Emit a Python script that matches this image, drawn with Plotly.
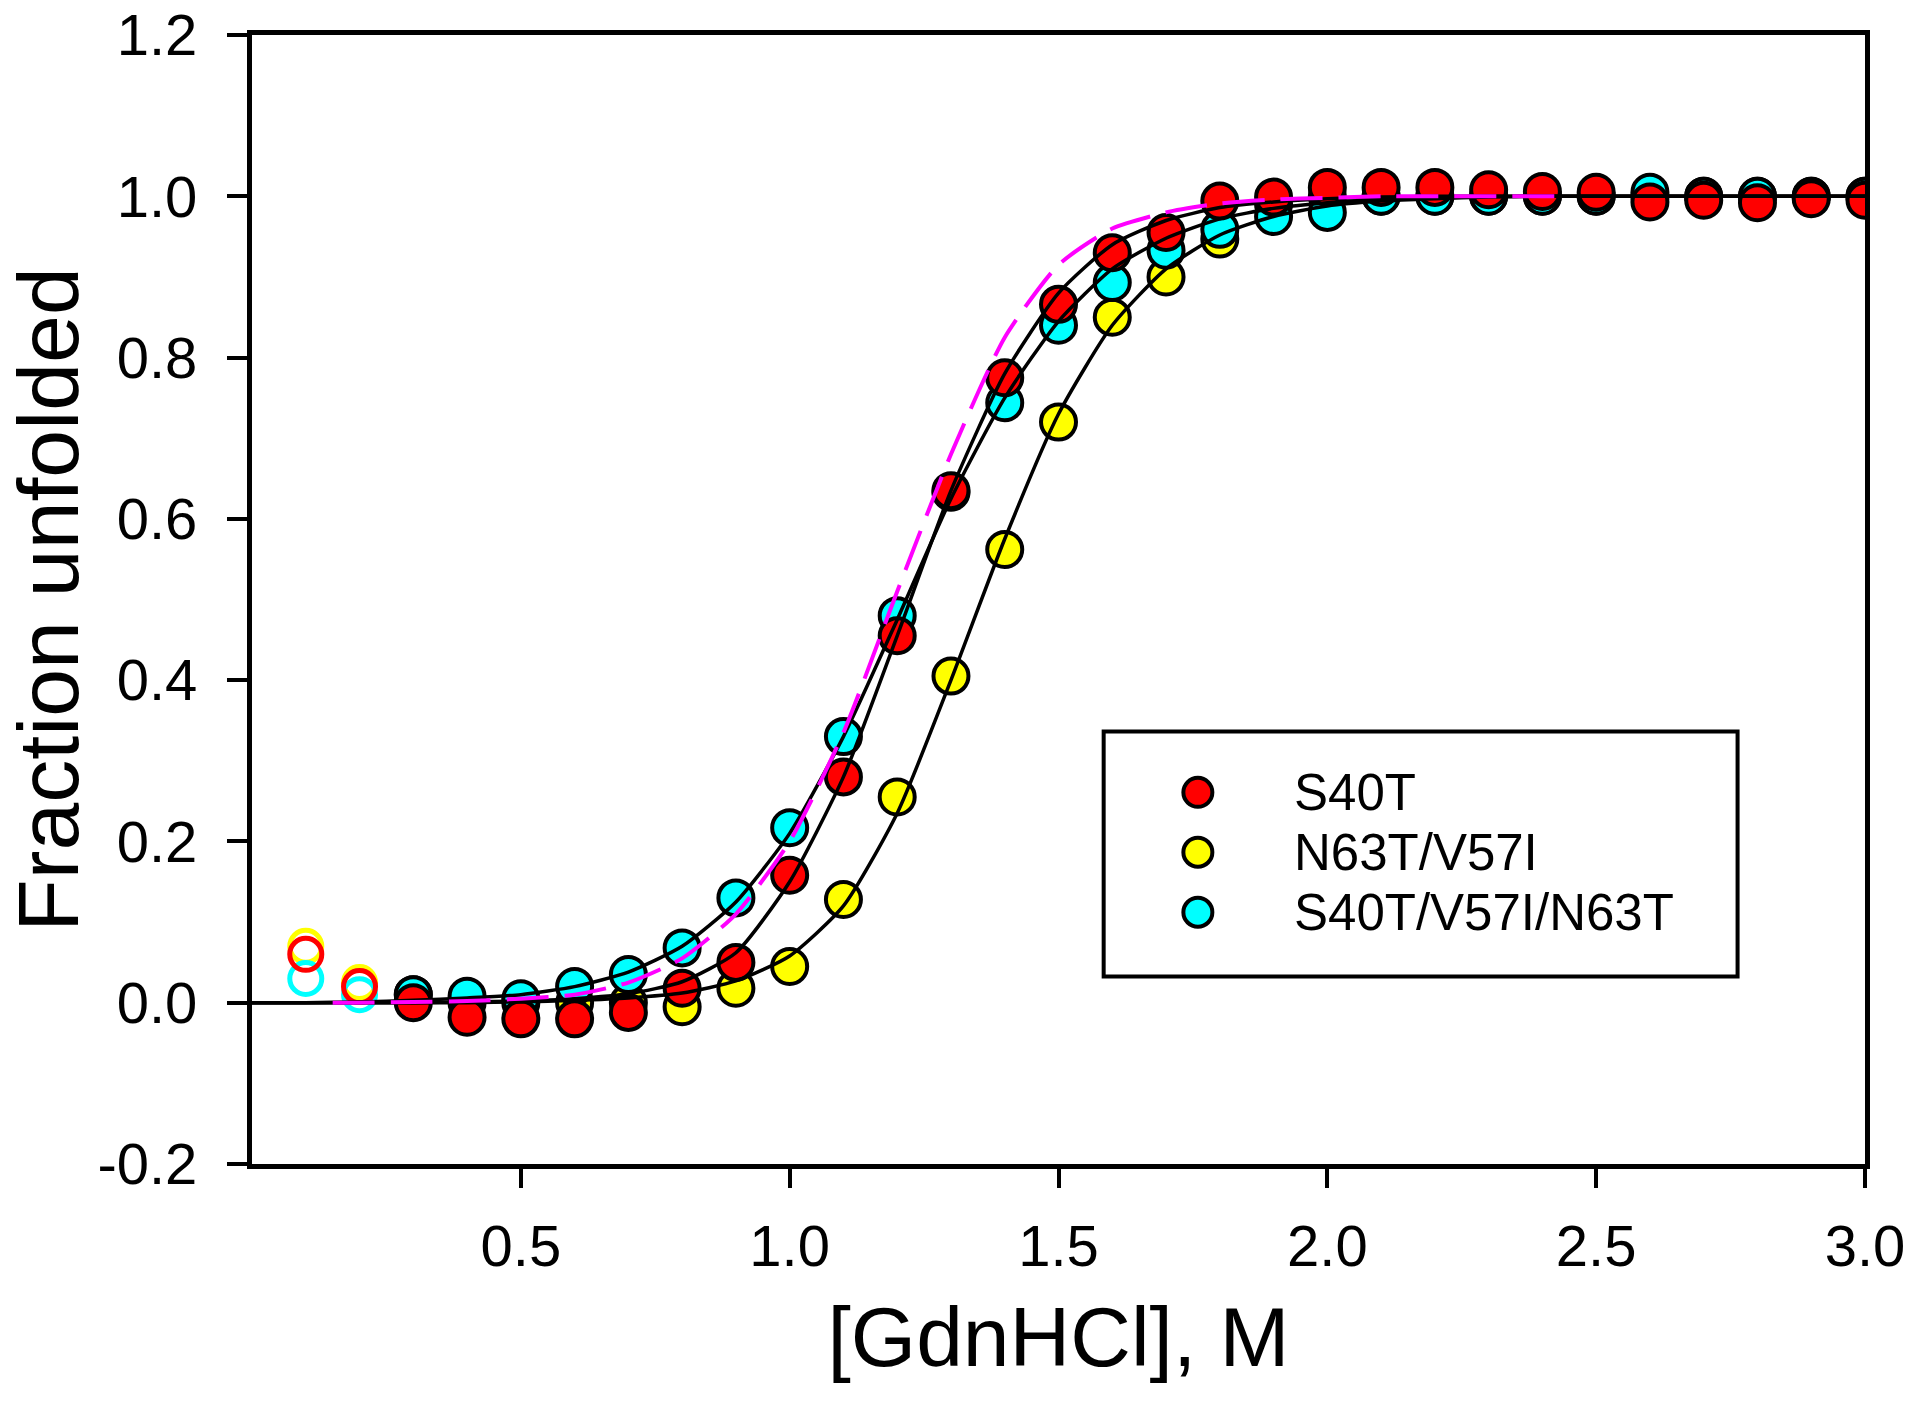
import plotly.graph_objects as go

# ---------------- data ----------------
series_names = ["S40T", "N63T/V57I", "S40T/V57I/N63T"]
series_colors = ["#ff0000", "#ffff00", "#00ffff"]

# open (excluded) points
x_open = [0.1, 0.2]
s40t_open = [0.06, 0.02]
n63t_open = [0.07, 0.025]
triple_open = [0.03, 0.01]

# filled points
x_data = [0.3, 0.4, 0.5, 0.6, 0.7, 0.8, 0.9, 1.0, 1.1, 1.2, 1.3, 1.4, 1.5, 1.6,
          1.7, 1.8, 1.9, 2.0, 2.1, 2.2, 2.3, 2.4, 2.5, 2.6, 2.7, 2.8, 2.9, 3.0]
s40t = [0.0, -0.018, -0.02, -0.02, -0.012, 0.018, 0.05, 0.158, 0.28, 0.455, 0.635,
        0.775, 0.866, 0.93, 0.955, 0.994, 0.999, 1.011, 1.011, 1.011, 1.008, 1.006,
        1.005, 0.993, 0.995, 0.992, 0.997, 0.995]
n63t = [0.01, 0.0, 0.0, 0.0, 0.0, -0.005, 0.018, 0.045, 0.128, 0.255, 0.405, 0.562,
        0.72, 0.85, 0.9, 0.947, 0.99, 1.0, 1.0, 1.0, 1.0, 1.0, 1.0, 1.0, 1.0, 1.0,
        1.0, 1.0]
triple = [0.01, 0.008, 0.005, 0.02, 0.035, 0.068, 0.13, 0.217, 0.33, 0.48, 0.633,
          0.744, 0.84, 0.893, 0.933, 0.959, 0.975, 0.98, 1.0, 1.0, 1.0, 1.0, 1.0,
          1.005, 1.0, 1.0, 1.0, 1.0]

# fitted curves
x_fit = [0.0, 0.1, 0.2, 0.3, 0.4, 0.5, 0.6, 0.7, 0.8, 0.9, 1.0, 1.1, 1.2, 1.3, 1.4,
         1.5, 1.6, 1.7, 1.8, 1.9, 2.0, 2.1, 2.2, 2.3, 2.4, 2.5, 2.6, 2.7, 2.8, 2.9, 3.0]
fit_s40t = [0.0, 0.0, 0.0, 0.0, 0.001, 0.002, 0.005, 0.011, 0.026, 0.062, 0.15, 0.28,
            0.455, 0.635, 0.78, 0.88, 0.94, 0.97, 0.986, 0.993, 0.997, 0.999, 1.0,
            1.0, 1.0, 1.0, 1.0, 1.0, 1.0, 1.0, 1.0]
fit_n63t = [0.0, 0.0, 0.0, 0.0, 0.0, 0.001, 0.003, 0.006, 0.012, 0.027, 0.058, 0.12,
            0.235, 0.4, 0.575, 0.73, 0.84, 0.91, 0.952, 0.975, 0.988, 0.994, 0.997,
            0.999, 1.0, 1.0, 1.0, 1.0, 1.0, 1.0, 1.0]
fit_triple = [0.0, 0.0, 0.001, 0.003, 0.006, 0.01, 0.02, 0.038, 0.07, 0.125, 0.21,
              0.33, 0.475, 0.625, 0.75, 0.845, 0.91, 0.948, 0.972, 0.985, 0.992,
              0.996, 0.998, 1.0, 1.0, 1.0, 1.0, 1.0, 1.0, 1.0, 1.0]
x_ref = [0.15, 0.2, 0.3, 0.4, 0.5, 0.6, 0.7, 0.8, 0.9, 1.0, 1.1, 1.2, 1.3, 1.4, 1.5,
         1.6, 1.7, 1.8, 1.9, 2.0, 2.1, 2.2, 2.3, 2.4, 2.45]
fit_ref = [0.0, 0.0, 0.001, 0.002, 0.005, 0.01, 0.025, 0.055, 0.11, 0.2, 0.335, 0.51,
           0.68, 0.825, 0.915, 0.96, 0.98, 0.991, 0.996, 0.998, 1.0, 1.0, 1.0, 1.0, 1.0]

x_tickvals = [0.5, 1.0, 1.5, 2.0, 2.5, 3.0]
x_ticktext = ["0.5", "1.0", "1.5", "2.0", "2.5", "3.0"]
y_tickvals = [-0.2, 0.0, 0.2, 0.4, 0.6, 0.8, 1.0, 1.2]
y_ticktext = ["-0.2", "0.0", "0.2", "0.4", "0.6", "0.8", "1.0", "1.2"]

FONT = "Liberation Sans, Arial, sans-serif"

fig = go.Figure()

open_vals = [s40t_open, n63t_open, triple_open]
filled_vals = [s40t, n63t, triple]
fits = [fit_s40t, fit_n63t, fit_triple]

# draw order: yellow, cyan, red (red on top)
order = [1, 2, 0]
for i in order:
    fig.add_trace(go.Scatter(
        x=x_open, y=open_vals[i], mode="markers", showlegend=False,
        marker=dict(symbol="circle-open", size=32, color=series_colors[i],
                    line=dict(width=5, color=series_colors[i])),
        name=series_names[i] + " (excluded)"))
for i in order:
    fig.add_trace(go.Scatter(
        x=x_data, y=filled_vals[i], mode="markers", showlegend=False,
        name=series_names[i],
        marker=dict(symbol="circle", size=35, color=series_colors[i],
                    line=dict(width=4, color="black"))))

for i in order:
    fig.add_trace(go.Scatter(
        x=x_fit, y=fits[i], mode="lines", showlegend=False,
        name=series_names[i] + " fit",
        line=dict(color="black", width=3.5, shape="spline", smoothing=0.6)))

fig.add_trace(go.Scatter(
    x=x_ref, y=fit_ref, mode="lines", showlegend=False, name="reference fit",
    line=dict(color="#ff00ff", width=4, dash="42px,16px", shape="spline",
              smoothing=0.6)))

# custom legend (box, symbols, labels)
leg_x0, leg_x1, leg_y0, leg_y1 = 0.528, 0.921, 0.166, 0.383
shapes = [dict(type="rect", xref="paper", yref="paper", x0=leg_x0, x1=leg_x1,
               y0=leg_y0, y1=leg_y1, line=dict(color="black", width=4),
               fillcolor="white", layer="above")]
row_y = [0.3292, 0.2761, 0.2230]
annotations = []
for i, name in enumerate(series_names):
    shapes.append(dict(type="circle", xref="paper", yref="paper",
                       xsizemode="pixel", ysizemode="pixel",
                       xanchor=0.5864, yanchor=row_y[i],
                       x0=-14.5, x1=14.5, y0=-14.5, y1=14.5,
                       fillcolor=series_colors[i], line=dict(color="black", width=4),
                       layer="above"))
    annotations.append(dict(xref="paper", yref="paper", x=0.6446, y=row_y[i],
                            xanchor="left", yanchor="middle", showarrow=False,
                            text=name, font=dict(family=FONT, size=51, color="black")))

fig.update_layout(
    width=1920, height=1403,
    margin=dict(l=252, r=55, t=35, b=239, autoexpand=False),
    paper_bgcolor="white", plot_bgcolor="white",
    font=dict(family=FONT, color="black"),
    shapes=shapes, annotations=annotations,
    showlegend=False,
)
fig.update_xaxes(
    range=[0, 3.0], tickvals=x_tickvals, ticktext=x_ticktext, automargin=False,
    showgrid=False, zeroline=False, showline=True, linecolor="black", linewidth=5,
    mirror=True, ticks="outside", ticklen=19, tickwidth=4, tickcolor="black",
    tickfont=dict(family=FONT, size=58), ticklabelstandoff=8,
    ticklabeloverflow="allow",
    title=dict(text="[GdnHCl], M", font=dict(family=FONT, size=84), standoff=32),
)
fig.update_yaxes(
    range=[-0.2, 1.2], tickvals=y_tickvals, ticktext=y_ticktext, automargin=False,
    showgrid=False, zeroline=False, showline=True, linecolor="black", linewidth=5,
    mirror=True, ticks="outside", ticklen=20, tickwidth=4, tickcolor="black",
    tickfont=dict(family=FONT, size=58), ticklabelstandoff=18,
    ticklabeloverflow="allow",
    title=dict(text="Fraction unfolded", font=dict(family=FONT, size=86), standoff=48),
)

fig.write_html("out.html", config={"displayModeBar": False},
               post_script="document.body.style.margin='0';document.body.style.overflow='hidden';")
